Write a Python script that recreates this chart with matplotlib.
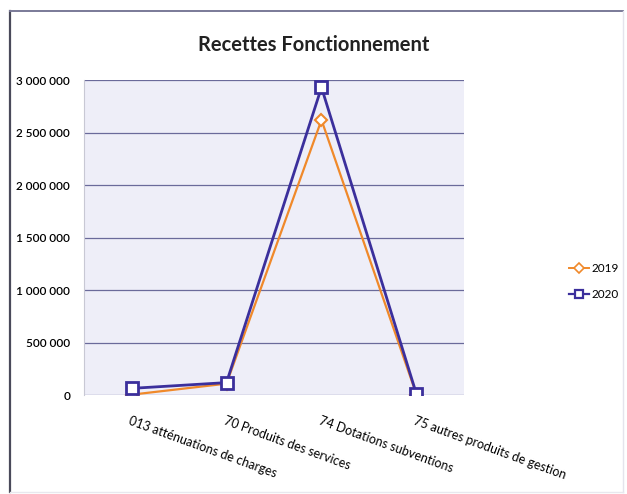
import matplotlib.pyplot as plt
from matplotlib.ticker import FuncFormatter
from matplotlib.lines import Line2D

categories = [
    "013 atténuations de charges",
    "70 Produits des services",
    "74 Dotations subventions",
    "75 autres produits de gestion",
]
values_2019 = [5000, 110000, 2620000, 5000]
values_2020 = [65000, 120000, 2930000, 10000]
yticks = [0, 500000, 1000000, 1500000, 2000000, 2500000, 3000000]

plt.rcParams['font.family'] = ['Lato', 'DejaVu Sans']

fig = plt.figure(figsize=(6.27, 4.94), dpi=100)
fig.patch.set_facecolor('white')

# outer frame of the chart box: left and top edges are dark, right and bottom faint
fl, fr, fb, ft = 10 / 627, 623 / 627, 1 - 492 / 494, 1 - 11 / 494
fig.lines.append(Line2D([fl, fl], [fb, ft], transform=fig.transFigure, color='#4a4a5a', lw=1.6))
fig.lines.append(Line2D([fl, fr], [ft, ft], transform=fig.transFigure, color='#7a7a98', lw=1.4))
fig.lines.append(Line2D([fr, fr], [fb, ft], transform=fig.transFigure, color='#e4e4ec', lw=1.0))
fig.lines.append(Line2D([fl, fr], [fb, fb], transform=fig.transFigure, color='#e8e8ee', lw=1.0))

ax = fig.add_axes([0.134, 0.2, 0.606, 0.638])
ax.set_facecolor('#eeeef8')

x = list(range(len(categories)))
c19 = '#f0892a'
c20 = '#3b2f9c'
ax.plot(x, values_2019, color=c19, lw=1.6, marker='D', ms=6.5,
        mfc='white', mec=c19, mew=1.5, zorder=3)
ax.plot(x, values_2020, color=c20, lw=2.0, marker='s', ms=9,
        mfc='white', mec=c20, mew=2.0, zorder=4)

ax.set_xlim(-0.5, 3.5)
ax.set_ylim(0, 3000000)
ax.set_yticks(yticks)
ax.yaxis.set_major_formatter(FuncFormatter(lambda v, p: f"{int(v):,}".replace(",", " ")))
ax.grid(axis='y', color='#6a6a9a', lw=0.9)
ax.set_axisbelow(True)
for s in ['top', 'right', 'bottom']:
    ax.spines[s].set_visible(False)
ax.spines['left'].set_color('#c8c8d4')
ax.tick_params(axis='both', length=0)
ax.tick_params(axis='y', labelsize=8.5, pad=10)
for t in ax.get_yticklabels():
    t.set_fontweight('semibold')

ax.set_xticks(x)
ax.set_xticklabels(categories, rotation=-20, ha='left', va='top',
                   rotation_mode='anchor', fontsize=9)
ax.tick_params(axis='x', pad=14)

fig.text(0.5, 0.908, "Recettes Fonctionnement", ha='center', va='center',
         fontsize=14.5, fontweight='bold', color='#222222')

handles = [
    Line2D([], [], color=c19, lw=1.4, marker='D', ms=5, mfc='white', mec=c19, mew=1.2),
    Line2D([], [], color=c20, lw=1.6, marker='s', ms=6, mfc='white', mec=c20, mew=1.6),
]
fig.legend(handles, ['2019', '2020'], loc='center left', bbox_to_anchor=(0.89, 0.43),
           frameon=False, fontsize=8.5, handlelength=1.7, handletextpad=0.2,
           labelspacing=1.2)

fig.savefig('out.png', dpi=100)
